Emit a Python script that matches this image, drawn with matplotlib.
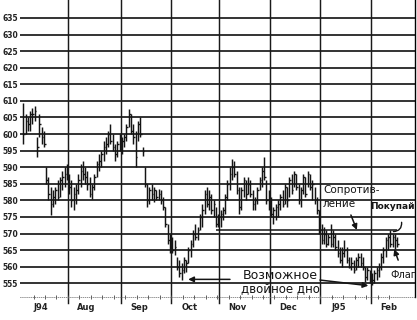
import numpy as np
import matplotlib
matplotlib.use("Agg")
import matplotlib.pyplot as plt

# months shown on the axis and number of trading days in each
months = ["J94", "Aug", "Sep", "Oct", "Nov", "Dec", "J95", "Feb"]
month_days = [20, 23, 22, 21, 22, 22, 22, 12]
price_ticks = list(range(555, 640, 5))

# daily bars, Jul 94 .. mid Feb 95
highs = [609.5, 606, 605, 607, 608, 608.5, 599, 606, 602, 601, 590, 587, 584, 583, 584, 586, 587, 589, 590, 591,
         588, 586, 584, 585, 588, 591, 592, 590, 589, 587, 585, 588, 592, 594, 595, 598, 599, 601, 603, 600, 597, 598, 600,
         599, 600, 603, 607.5, 606, 603, 601, 604, 605, 596, 590, 585, 584, 585, 584, 583, 583.5, 583, 581, 578, 573, 570,
         569, 568, 563, 562, 561, 563, 562, 566, 568, 571, 573, 572, 576, 579, 583, 584, 583, 582, 580, 578, 576,
         577, 578, 582, 586, 590, 592.5, 592, 589, 584, 584, 587, 586, 587, 586, 583, 581, 584, 587, 590, 593, 586, 583,
         581, 578, 579, 580, 582, 583, 585, 584, 587, 588, 589, 588, 585, 584, 588, 587, 589, 588, 586, 584, 581, 577,
         573, 572, 571, 570, 573, 571, 570, 568, 566, 566, 568, 566, 563, 563, 562, 563, 564, 564, 563, 560, 560, 559,
         558, 559, 560, 561, 564, 566, 569, 570, 571, 570, 570, 569]
lows = [597, 600, 601, 601, 603, 604, 593, 599, 597, 596, 585, 580, 575.5, 578, 579, 580, 581, 583, 584, 586,
        582, 578, 577, 579, 582, 584, 586, 585, 583, 581, 580.5, 583, 587, 589, 590, 592, 594, 596, 597, 595, 592, 593, 595,
        594, 596, 598, 602, 600, 597, 590, 598, 599, 593.5, 584, 578, 579, 580, 579.5, 580, 580, 579, 577, 572, 567, 564,
        564, 563.5, 559, 557, 556, 558, 558.5, 561, 563, 566, 568, 568, 571, 572, 576, 578, 577, 576, 575, 572, 572,
        572, 574, 576, 580, 583, 586, 587, 582, 576, 577, 581, 580, 582, 581, 577, 577, 579, 583, 584, 586, 579, 577,
        575, 573, 574, 575, 577, 578, 579, 578, 581, 582, 584, 583, 579, 578, 582, 581, 584, 583, 580, 579, 576, 570,
        567, 567, 566, 566.5, 566, 566, 565, 563, 561, 560, 563, 561, 559.5, 559, 558, 559, 560, 560, 559, 555.5, 556, 555,
        554.5, 555, 556, 557, 559, 561, 563, 565, 566, 566, 565.5, 566]
closes = [600, 604, 603, 606, 606, 607, 596, 603, 599, 597, 586, 582, 579, 581, 583, 581, 586, 587, 588, 587,
          584, 580, 582, 583, 586, 589, 588, 587, 585, 582, 584, 587, 591, 592, 594, 596, 597, 600, 598, 596, 594, 597, 599,
          598, 599, 602, 606, 601, 599, 593, 603, 600, 595, 585, 580, 583, 582, 583, 581, 582, 580, 578, 573, 568, 566,
          565, 566, 560, 558, 559, 562, 561, 565, 567, 570, 569, 571, 575, 577, 582, 579, 581, 577, 579, 573, 575,
          576, 577, 581, 585, 588, 590, 588, 583, 578, 583, 586, 582, 585, 582, 579, 580, 583, 586, 589, 587, 580, 578,
          576, 577, 578, 579, 581, 579, 584, 580, 586, 583, 588, 584, 580, 583, 587, 582, 588, 584, 585, 580, 577, 571,
          568, 570, 567, 569, 567, 569, 566, 564, 562, 564, 565, 562, 560, 561, 559, 562, 563, 561, 560, 557, 559, 556,
          556, 558, 559, 560, 563, 565, 568, 569, 567, 569, 568, 567]

resistance = 571.2

ink = "#141414"
fig = plt.figure(figsize=(4.17, 3.2), dpi=100)
ax = fig.add_axes([0.048, 0.072, 0.947, 0.928])

x = np.arange(len(highs))
ax.vlines(x, lows, highs, color=ink, lw=1.05, zorder=3)
ax.hlines(closes, x, x + 0.75, color=ink, lw=1.0, zorder=3)

ax.set_xlim(-1.4, 170.7)
ax.set_ylim(550.9, 640.4)

# grid
for p in price_ticks:
    ax.axhline(p, color="#1a1a1a", lw=1.25, zorder=1)
starts = np.cumsum([0] + month_days[:-1]) - 0.5
for s in starts[1:]:
    ax.axvline(s, ymin=-0.02, ymax=1, color="#1a1a1a", lw=1.05, zorder=1, clip_on=False)

# axis styling
for side in ["top", "left"]:
    ax.spines[side].set_visible(False)
ax.spines["right"].set_linewidth(1.0)
ax.spines["bottom"].set_linestyle((0, (1, 2)))
ax.spines["bottom"].set_linewidth(0.5)
ax.spines["bottom"].set_color("#666666")

ax.set_xticks(np.arange(4.5, len(highs), 5))
ax.tick_params(axis="x", direction="inout", length=3, width=0.6, color="#444444", labelbottom=False)
ax.set_yticks(price_ticks)
ax.set_yticklabels([str(p) for p in price_ticks], fontsize=5.5, fontweight="bold", color="#222222")
ax.tick_params(axis="y", length=0, pad=1.5)

for s, m in zip(starts, months):
    ax.text(s + 8, 547.6, m, fontsize=6, fontweight="semibold", ha="center", va="center",
            color="#222222", clip_on=False)

# resistance line and annotations
ax.hlines(resistance, 84, 163, color=ink, lw=1.1, zorder=2)

arrow = dict(arrowstyle="-|>", color=ink, lw=1.1, mutation_scale=8, shrinkA=0, shrinkB=0)
ax.annotate("", xy=(71.9, 556.2), xytext=(90.1, 556.2), arrowprops=arrow)
ax.annotate("", xy=(150.4, 554.3), xytext=(129.3, 556.0), arrowprops=arrow)
ax.annotate("", xy=(145.4, 571.1), xytext=(142.8, 575.6), arrowprops=arrow)
ax.annotate("", xy=(161.7, 565.3), xytext=(163.4, 562.0), arrowprops=arrow)
ax.annotate("", xy=(161.3, 570.6), xytext=(164.9, 573.4),
            arrowprops=dict(arrowstyle="-", color=ink, lw=1.0, shrinkA=0, shrinkB=0,
                            connectionstyle="arc3,rad=-0.5"))

ax.text(95.8, 557.5, "Возможное", fontsize=9, ha="left", va="center", color=ink)
ax.text(95.0, 553.0, "двойное дно", fontsize=8.5, ha="left", va="center", color=ink)
ax.text(130.6, 583.1, "Сопротив-", fontsize=7.5, ha="left", va="center", color=ink)
ax.text(130.6, 578.9, "ление", fontsize=7.5, ha="left", va="center", color=ink)
ax.text(151.1, 578.3, "Покупай", fontsize=6.5, fontweight="bold", ha="left", va="center", color=ink)
ax.text(159.8, 557.5, "Флаг", fontsize=7, ha="left", va="center", color=ink)

fig.savefig("out.png", dpi=100)
